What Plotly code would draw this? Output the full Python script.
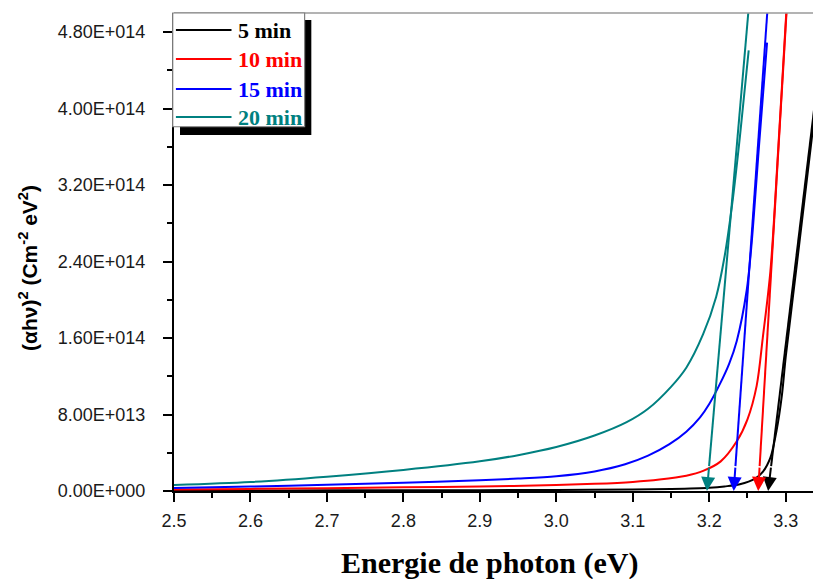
import plotly.graph_objects as go

# Photon energy (eV) and (alpha*h*nu)^2 (cm^-2 eV^2) for each deposition time
labels = ["5 min", "10 min", "15 min", "20 min"]
colors = ["#000000", "#FF0000", "#0000FF", "#008080"]

energy_5 = [2.50, 2.60, 2.70, 2.80, 2.90, 3.00, 3.10, 3.15, 3.20, 3.22, 3.24,
            3.26, 3.27, 3.28, 3.288, 3.295, 3.30, 3.315, 3.335, 3.345]
ahv2_5 = [0.05e13, 0.06e13, 0.07e13, 0.08e13, 0.09e13, 0.11e13, 0.15e13, 0.22e13,
          0.35e13, 0.48e13, 0.70e13, 1.3e13, 2.0e13, 3.5e13, 6.3e13, 10e13, 14e13,
          24e13, 37.5e13, 44e13]

energy_10 = [2.50, 2.60, 2.70, 2.80, 2.90, 3.00, 3.05, 3.10, 3.135, 3.17, 3.192,
             3.215, 3.236, 3.25, 3.262, 3.27, 3.28, 3.29, 3.30, 3.306]
ahv2_10 = [0.15e13, 0.22e13, 0.30e13, 0.38e13, 0.47e13, 0.62e13, 0.75e13, 0.95e13,
           1.2e13, 1.6e13, 2.1e13, 3.1e13, 5.2e13, 7.5e13, 11e13, 16e13, 23e13,
           35.5e13, 49e13, 57e13]

energy_15 = [2.50, 2.60, 2.70, 2.80, 2.90, 2.95, 3.00, 3.05, 3.09, 3.12, 3.148,
             3.17, 3.188, 3.20, 3.214, 3.226, 3.236, 3.249, 3.255, 3.265, 3.2756]
ahv2_15 = [0.32e13, 0.47e13, 0.65e13, 0.86e13, 1.12e13, 1.3e13, 1.55e13, 2.05e13,
           2.8e13, 3.7e13, 4.9e13, 6.2e13, 7.7e13, 9.1e13, 11.2e13, 13.3e13, 15.7e13,
           21e13, 25.5e13, 36e13, 46.9e13]

energy_20 = [2.50, 2.60, 2.70, 2.80, 2.90, 2.95, 3.00, 3.05, 3.092, 3.12, 3.15,
             3.17, 3.192, 3.209, 3.22, 3.23, 3.24, 3.2516]
ahv2_20 = [0.63e13, 0.94e13, 1.5e13, 2.2e13, 3.1e13, 3.75e13, 4.6e13, 5.8e13,
           7.2e13, 8.6e13, 10.9e13, 12.9e13, 16.4e13, 20.3e13, 24.5e13, 30e13, 37e13, 46.1e13]

energies = [energy_5, energy_10, energy_15, energy_20]
values = [ahv2_5, ahv2_10, ahv2_15, ahv2_20]

# Linear extrapolation of the absorption edge: band gap (intercept) and a point high on the line
band_gap = [3.277, 3.264, 3.232, 3.197]
fit_top_energy = [3.3553, 3.3025, 3.2776, 3.2532]
fit_top_value = 5.2e14

x_ticks = [2.5, 2.6, 2.7, 2.8, 2.9, 3.0, 3.1, 3.2, 3.3]
x_ticktext = ["2.5", "2.6", "2.7", "2.8", "2.9", "3.0", "3.1", "3.2", "3.3"]
x_minor = [2.55, 2.65, 2.75, 2.85, 2.95, 3.05, 3.15, 3.25]
y_ticks = [0, 8e13, 1.6e14, 2.4e14, 3.2e14, 4.0e14, 4.8e14]
y_ticktext = ["0.00E+000", "8.00E+013", "1.60E+014", "2.40E+014",
              "3.20E+014", "4.00E+014", "4.80E+014"]
y_minor = [4e13, 1.2e14, 2.0e14, 2.8e14, 3.6e14, 4.4e14]

fig = go.Figure()

for e, v, c, name in zip(energies, values, colors, labels):
    fig.add_trace(go.Scatter(x=e, y=v, mode="lines", name=name,
                             line=dict(color=c, width=2, shape="spline", smoothing=0.9),
                             showlegend=False))

annotations = []
for eg, xt, c in zip(band_gap, fit_top_energy, colors):
    slope = fit_top_value / (xt - eg)
    y_head = 2.6e13
    x_head = eg + y_head / slope
    fig.add_trace(go.Scatter(x=[xt, x_head], y=[fit_top_value, y_head], mode="lines",
                             line=dict(color=c, width=2), showlegend=False,
                             hoverinfo="skip"))
    annotations.append(dict(x=eg, y=0, ax=x_head, ay=y_head, xref="x", yref="y",
                            axref="x", ayref="y", text="", showarrow=True,
                            arrowhead=2, arrowsize=1.4, arrowwidth=2, arrowcolor=c,
                            standoff=0, startstandoff=0))

tick_font = dict(family="Liberation Sans, Arial, sans-serif", size=18, color="#1a1a1a")

fig.update_xaxes(range=[2.5, 3.3357], showline=True, linecolor="black", linewidth=2,
                 ticks="outside", ticklen=9, tickwidth=1.5, tickcolor="black",
                 tickvals=x_ticks, ticktext=x_ticktext, tickfont=tick_font,
                 ticklabelstandoff=3,
                 minor=dict(tickvals=x_minor, ticks="outside", ticklen=5,
                            tickwidth=1.5, tickcolor="black"),
                 showgrid=False, zeroline=False)
fig.update_yaxes(range=[0, 5.0e14], showline=True, linecolor="black", linewidth=2,
                 ticks="outside", ticklen=9, tickwidth=1.5, tickcolor="black",
                 tickvals=y_ticks, ticktext=y_ticktext, tickfont=tick_font,
                 ticklabelstandoff=14,
                 minor=dict(tickvals=y_minor, ticks="outside", ticklen=5,
                            tickwidth=1.5, tickcolor="black"),
                 showgrid=False, zeroline=False)

# Axis titles
annotations.append(dict(x=0.4945, y=-0.1506, xref="paper", yref="paper",
                        text="<b>Energie de photon (eV)</b>", showarrow=False,
                        xanchor="center", yanchor="middle",
                        font=dict(family="Liberation Serif, Times New Roman, serif",
                                  size=30, color="black")))
annotations.append(dict(x=-0.2285, y=0.4665, xref="paper", yref="paper",
                        text="<b>(\u03b1h\u03bd)<sup>2</sup> (Cm<sup>-2</sup> eV<sup>2</sup>)</b>",
                        showarrow=False, textangle=-90, xanchor="center", yanchor="middle",
                        font=dict(family="Liberation Sans, Arial, sans-serif",
                                  size=21, color="black")))

# Legend panel: shadow, framed box, sample lines and coloured labels
shapes = [
    dict(type="line", xref="paper", yref="paper", x0=0, x1=1, y0=1, y1=1,
         line=dict(color="#9a9a9a", width=1.5), layer="above"),
    dict(type="rect", xref="paper", yref="paper", x0=0.0094, x1=0.2149,
         y0=0.7446, y1=0.9853, fillcolor="black", line=dict(width=0), layer="above"),
    dict(type="rect", xref="paper", yref="paper", x0=-0.002, x1=0.2044,
         y0=0.762, y1=1.0, fillcolor="white", line=dict(color="#808080", width=1.2),
         layer="above"),
]
row_y = [0.9644, 0.9037, 0.8409, 0.7823]
for ry, c, name in zip(row_y, colors, labels):
    shapes.append(dict(type="line", xref="paper", yref="paper", x0=0.003, x1=0.090,
                       y0=ry, y1=ry, line=dict(color=c, width=2), layer="above"))
    annotations.append(dict(x=0.0974, y=ry, xref="paper", yref="paper", text=f"<b>{name}</b>",
                            showarrow=False, xanchor="left", yanchor="middle",
                            font=dict(family="Liberation Serif, Times New Roman, serif",
                                      size=22, color=c)))

fig.update_layout(width=813, height=579, margin=dict(l=174, r=0, t=13, b=88),
                  plot_bgcolor="white", paper_bgcolor="white",
                  shapes=shapes, annotations=annotations, showlegend=False)

fig.write_html("out.html")
